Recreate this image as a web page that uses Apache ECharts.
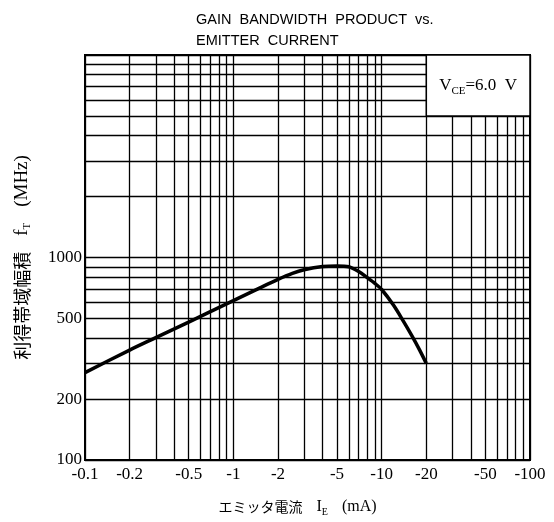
<!DOCTYPE html>
<html><head><meta charset="utf-8">
<script src="https://cdn.jsdelivr.net/npm/echarts@6/dist/echarts.min.js"></script>
<style>html,body{margin:0;padding:0;background:#fff}#c{width:554px;height:522px}</style>
</head><body><div id="c"></div>
<script>
// Emitter current magnitude (mA, plotted as -I_E) and gain bandwidth product (MHz)
const currentMA = [0.1, 0.2, 0.3, 0.5, 0.7, 1, 1.5, 2, 2.5, 3, 4, 5, 6, 7, 8, 9, 10, 12, 14, 16, 18, 20];
const fTMHz     = [270, 349, 402, 480, 540, 612, 706, 780, 835, 870, 903, 909, 900, 852, 795, 745, 695, 582, 485, 410, 350, 300];

const xTickValues = [0.1, 0.2, 0.5, 1, 2, 5, 10, 20, 50, 100];
const xTickLabels = ['-0.1', '-0.2', '-0.5', '-1', '-2', '-5', '-10', '-20', '-50', '-100'];
const yTickValues = [100, 200, 500, 1000];
const yTickLabels = ['100', '200', '500', '1000'];

const xGridValues = [0.1, 0.2, 0.3, 0.4, 0.5, 0.6, 0.7, 0.8, 0.9,
                     1, 2, 3, 4, 5, 6, 7, 8, 9,
                     10, 20, 30, 40, 50, 60, 70, 80, 90, 100];
const yGridValues = [100, 200, 300, 400, 500, 600, 700, 800, 900,
                     1000, 2000, 3000, 4000, 5000, 6000, 7000, 8000, 9000, 10000];

const boxCorner1 = [20, 5000];
const boxCorner2 = [100, 10000];

const SERIF = "'Liberation Serif', 'DejaVu Serif', serif";
const SANS = "'Liberation Sans', Arial, sans-serif";
const CJK = "'Noto Sans CJK JP', sans-serif";

const gridLines = [];
xGridValues.forEach(v => {
  const i = xTickValues.indexOf(v);
  gridLines.push({
    xAxis: v,
    label: i >= 0 ? { show: true, formatter: xTickLabels[i], position: 'start', distance: 6,
      color: '#000', fontFamily: SERIF, fontSize: 17 } : { show: false }
  });
});
yGridValues.forEach(v => {
  const i = yTickValues.indexOf(v);
  gridLines.push({
    yAxis: v,
    label: i >= 0 ? { show: true, formatter: yTickLabels[i], position: 'start', distance: 3,
      color: '#000', fontFamily: SERIF, fontSize: 17 } : { show: false }
  });
});

const chart = echarts.init(document.getElementById('c'));
chart.setOption({
  animation: false,
  backgroundColor: '#fff',
  title: {
    text: 'GAIN  BANDWIDTH  PRODUCT  vs.\nEMITTER  CURRENT',
    left: 191, top: 4,
    textStyle: { fontFamily: SANS, fontSize: 14.5, fontWeight: 'normal', color: '#000', lineHeight: 21 }
  },
  grid: {
    left: 85, right: 24, top: 55, bottom: 62,
    show: true, borderColor: '#000', borderWidth: 2, backgroundColor: 'transparent',
    outerBoundsMode: 'none'
  },
  xAxis: {
    type: 'log', logBase: 10, min: 0.1, max: 100,
    axisLine: { show: false }, axisTick: { show: false }, axisLabel: { show: false }, splitLine: { show: false },
    name: '{cjk|エミッタ電流}{sp|　}{s|I}{sub|E}{sp|　}{s|(mA)}',
    nameLocation: 'middle', nameGap: 37,
    nameTextStyle: {
      padding: [0, 20, 0, 0],
      rich: {
        cjk: { fontFamily: CJK, fontSize: 14, color: '#000', lineHeight: 20 },
        sp: { fontFamily: CJK, fontSize: 14, lineHeight: 20 },
        s: { fontFamily: SERIF, fontSize: 16, color: '#000', lineHeight: 20 },
        sub: { fontFamily: SERIF, fontSize: 10, color: '#000', lineHeight: 20, verticalAlign: 'bottom' }
      }
    }
  },
  yAxis: {
    type: 'log', logBase: 10, min: 100, max: 10000,
    axisLine: { show: false }, axisTick: { show: false }, axisLabel: { show: false }, splitLine: { show: false },
    name: '{cjk|利得帯域幅積}{sp|　}{s|f}{sub|T}{sp|　}{s|(MHz)}',
    nameLocation: 'middle', nameGap: 52, nameRotate: 90,
    nameTextStyle: {
      rich: {
        cjk: { fontFamily: CJK, fontSize: 18, color: '#000', lineHeight: 22 },
        sp: { fontFamily: CJK, fontSize: 16, lineHeight: 22 },
        s: { fontFamily: SERIF, fontSize: 19, color: '#000', lineHeight: 22 },
        sub: { fontFamily: SERIF, fontSize: 11, color: '#000', lineHeight: 22, verticalAlign: 'bottom' }
      }
    }
  },
  series: [{
    type: 'line',
    z: 10,
    data: currentMA.map((x, i) => [x, fTMHz[i]]),
    showSymbol: false,
    smooth: 0.3,
    lineStyle: { color: '#000', width: 3.5 },
    silent: true,
    markLine: {
      silent: true, z: 5,
      symbol: ['none', 'none'],
      lineStyle: { color: '#000', width: 1.3, type: 'solid' },
      emphasis: { disabled: true },
      data: gridLines
    },
    markArea: {
      silent: true, z: 6,
      itemStyle: { color: '#fff', borderColor: '#000', borderWidth: 1.5, opacity: 1 },
      label: {
        show: true, position: 'inside',
        formatter: '{v|V}{sub|CE}{v|=6.0  V}',
        rich: {
          v: { fontFamily: SERIF, fontSize: 17, color: '#000', lineHeight: 22 },
          sub: { fontFamily: SERIF, fontSize: 11, color: '#000', lineHeight: 22, verticalAlign: 'bottom' }
        }
      },
      emphasis: { disabled: true },
      data: [[{ xAxis: boxCorner1[0], yAxis: boxCorner1[1] }, { xAxis: boxCorner2[0], yAxis: boxCorner2[1] }]]
    }
  }]
});
</script>
</body></html>
